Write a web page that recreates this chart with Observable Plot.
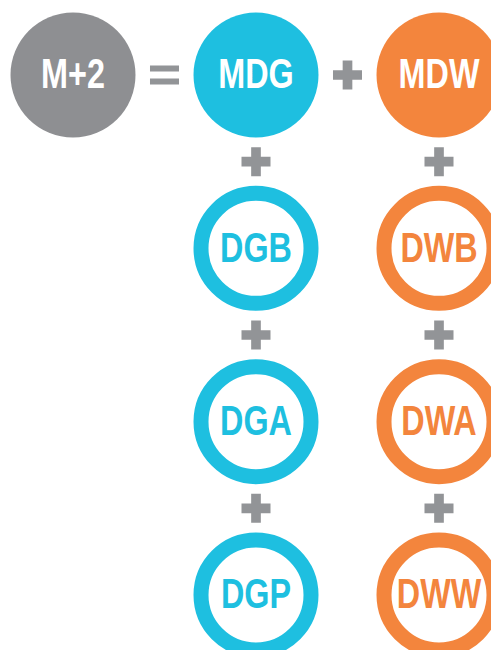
<!DOCTYPE html>
<html><head><meta charset="utf-8">
<script src="https://cdn.jsdelivr.net/npm/d3@7"></script>
<script src="https://cdn.jsdelivr.net/npm/@observablehq/plot@0.6"></script>
<style>html,body{margin:0;padding:0;background:#fff;overflow:hidden}</style>
</head><body><div id="chart"></div>
<script>
// Nodes of the equation diagram
const nodeLabels = ["M+2", "MDG", "MDW", "DGB", "DWB", "DGA", "DWA", "DGP", "DWW"];
const nodeCols   = [0, 1, 2, 1, 2, 1, 2, 1, 2];
const nodeRows   = [0, 0, 0, 1, 1, 2, 2, 3, 3];
const nodeGroups = ["total", "green", "water", "green", "water", "green", "water", "green", "water"];
const nodeKinds  = ["solid", "solid", "solid", "ring", "ring", "ring", "ring", "ring", "ring"];

// Operators between nodes
const opKinds = ["equals", "plus", "plus", "plus", "plus", "plus", "plus", "plus"];
const opCols  = [0.5, 1.5, 1, 2, 1, 2, 1, 2];
const opRows  = [0, 0, 0.5, 0.5, 1.5, 1.5, 2.5, 2.5];

const colors = {total: "#8e8f92", green: "#1ebfe0", water: "#f3853d"};
const opColor = "#929497";

const nodes = nodeLabels.map((label, i) => ({label, col: nodeCols[i], row: nodeRows[i], group: nodeGroups[i], kind: nodeKinds[i]}));
const ops = opKinds.map((kind, i) => ({kind, col: opCols[i], row: opRows[i]}));

const equalsSymbol = {
  draw(context, size) {
    const w = Math.sqrt(size / 5) * 3;
    const h = w * 6 / 29;
    context.rect(-w / 2, -w * 9.5 / 29, w, h);
    context.rect(-w / 2, w * 3.5 / 29, w, h);
  }
};

const font = "'Liberation Sans', Arial, sans-serif";

const chart = Plot.plot({
  width: 491,
  height: 650,
  margin: 0,
  style: {background: "#fff", overflow: "hidden"},
  x: {domain: [0, 2], range: [72.5, 438.5], axis: null},
  y: {domain: [0, 3], range: [74.5, 594.5], axis: null},
  marks: [
    Plot.dot(nodes.filter(d => d.kind === "solid"), {
      x: "col", y: "row", r: 62.5,
      fill: d => colors[d.group], stroke: null
    }),
    Plot.dot(nodes.filter(d => d.kind === "ring"), {
      x: "col", y: "row", r: 55,
      fill: "#fff", stroke: d => colors[d.group], strokeWidth: 15
    }),
    Plot.text(nodes, {
      x: "col", y: "row", text: "label",
      fill: d => d.kind === "solid" ? "#fff" : colors[d.group],
      fontSize: 42, fontWeight: "bold", fontFamily: font,
      className: "node-label"
    }),
    Plot.dot(ops, {
      x: "col", y: "row", r: 12.2,
      symbol: d => d.kind === "equals" ? equalsSymbol : d3.symbolCross,
      fill: opColor, stroke: null
    })
  ]
});
document.getElementById("chart").appendChild(chart);
// condense the labels horizontally to mimic a condensed bold face
chart.querySelectorAll(".node-label text").forEach(t => {
  const tr = t.getAttribute("transform") || "";
  t.setAttribute("transform", tr + " scale(0.77,1)");
});
</script>
</body></html>
